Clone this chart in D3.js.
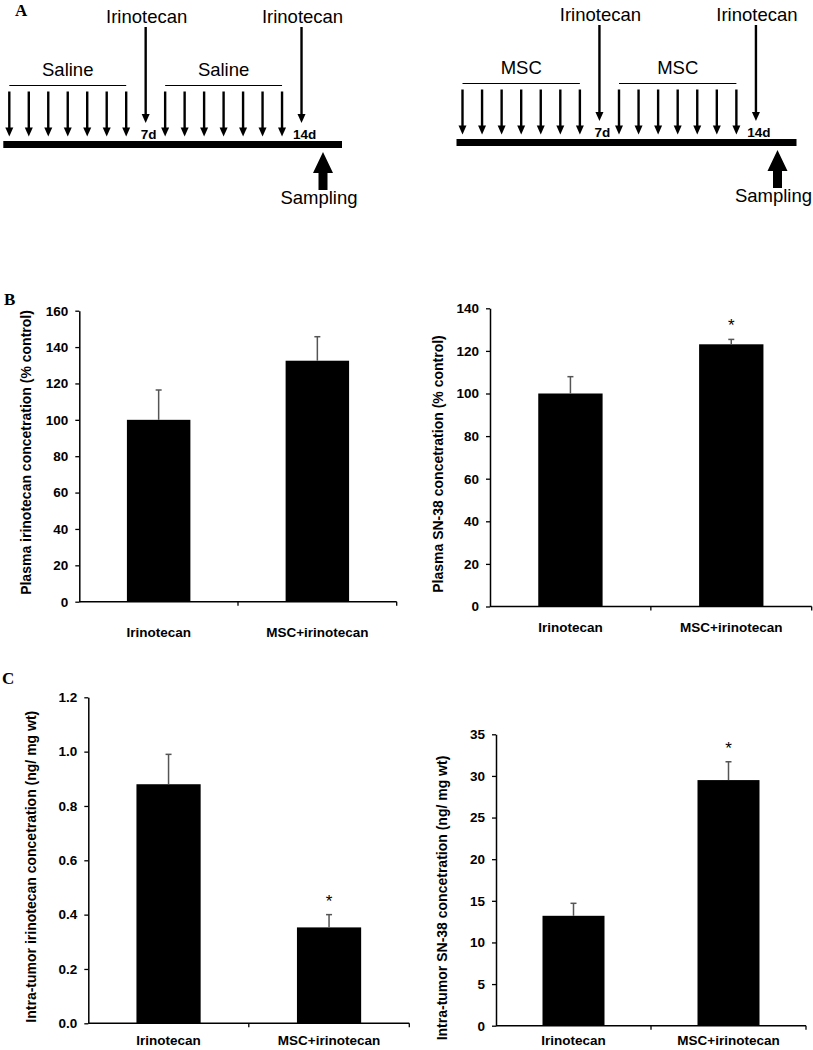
<!DOCTYPE html>
<html>
<head>
<meta charset="utf-8">
<script src="https://cdn.jsdelivr.net/npm/d3@7"></script>
<style>
  html, body { margin: 0; padding: 0; background: #fff; }
  svg { display: block; }
  text { font-family: "Liberation Sans", Arial, sans-serif; }
</style>
</head>
<body>
<script>
// ---------------- DATA ----------------
const categories = ["Irinotecan", "MSC+irinotecan"];

const plasmaIrinotecan = [100, 132.5];
const plasmaIrinotecanErr = [16.4, 13.2];
const plasmaIrinotecanSig = [false, false];
const plasmaIrinotecanTicks = [0, 20, 40, 60, 80, 100, 120, 140, 160];

const plasmaSN38 = [100, 123.1];
const plasmaSN38Err = [7.9, 2.3];
const plasmaSN38Sig = [false, true];
const plasmaSN38Ticks = [0, 20, 40, 60, 80, 100, 120, 140];

const tumorIrinotecan = [0.88, 0.353];
const tumorIrinotecanErr = [0.11, 0.047];
const tumorIrinotecanSig = [false, true];
const tumorIrinotecanTicks = [0, 0.2, 0.4, 0.6, 0.8, 1.0, 1.2];

const tumorSN38 = [13.2, 29.5];
const tumorSN38Err = [1.5, 2.2];
const tumorSN38Sig = [false, true];
const tumorSN38Ticks = [0, 5, 10, 15, 20, 25, 30, 35];

// schedule (panel A)
const doseDays1 = [0, 1, 2, 3, 4, 5, 6];
const doseDays2 = [8, 9, 10, 11, 12, 13, 14];
const irinotecanDays = [7, 15];
const irinotecanDayLabels = ["7d", "14d"];
const samplingDay = 16;
const leftGroupLabel = "Saline";
const rightGroupLabel = "MSC";

// ---------------- DRAW ----------------
const W = 813, H = 1050;
const svg = d3.select("body").append("svg").attr("width", W).attr("height", H);
svg.append("rect").attr("width", W).attr("height", H).attr("fill", "#fff");

// panel letters
const letterFont = '"Liberation Serif", "Times New Roman", serif';
[["A", 15, 16], ["B", 4, 305], ["C", 2, 684]].forEach(([t, x, y]) => {
  svg.append("text").attr("x", x).attr("y", y).text(t)
    .style("font-family", letterFont).style("font-weight", "bold").style("font-size", "17px");
});

function arrowDown(g, x, yTop, yTip) {
  const hl = 9, hw = 4;
  g.append("line").attr("x1", x).attr("x2", x).attr("y1", yTop).attr("y2", yTip - hl + 1)
    .attr("stroke", "#000").attr("stroke-width", 2.4);
  g.append("path").attr("d", `M${x - hw},${yTip - hl} L${x + hw},${yTip - hl} L${x},${yTip} Z`)
    .attr("fill", "#000");
}

function drawSchedule(rangeX, yShift, groupLabel) {
  const g = svg.append("g").attr("transform", `translate(0,${yShift})`);
  const x = d3.scaleLinear().domain([0, samplingDay]).range(rangeX);
  // thick timeline bar
  g.append("rect").attr("x", x(0) - 6).attr("y", 141).attr("width", x(samplingDay) + 21 - (x(0) - 6)).attr("height", 7)
    .attr("fill", "#000");
  // dose arrows
  [doseDays1, doseDays2].forEach(days => {
    days.forEach(d => arrowDown(g, x(d), 91.5, 136.5));
    g.append("line").attr("x1", x(d3.min(days))).attr("x2", x(d3.max(days)))
      .attr("y1", 85.5).attr("y2", 85.5).attr("stroke", "#000").attr("stroke-width", 1.2);
    g.append("text").attr("x", (x(d3.min(days)) + x(d3.max(days))) / 2).attr("y", 76)
      .attr("text-anchor", "middle").style("font-size", "18.5px").text(groupLabel);
  });
  // irinotecan arrows
  irinotecanDays.forEach((d, i) => {
    arrowDown(g, x(d), 27, 123);
    g.append("text").attr("x", x(d) + 1).attr("y", 22.5).attr("text-anchor", "middle")
      .style("font-size", "18.5px").text("Irinotecan");
    g.append("text").attr("x", x(d) + 3).attr("y", 139).attr("text-anchor", "middle")
      .style("font-size", "13.5px").style("font-weight", "bold").text(irinotecanDayLabels[i]);
  });
  // sampling arrow
  const sx = x(samplingDay) + 2;
  g.append("path").attr("d",
    `M${sx},152 L${sx + 10},173 L${sx + 4.5},173 L${sx + 4.5},190 L${sx - 4.5},190 L${sx - 4.5},173 L${sx - 10},173 Z`)
    .attr("fill", "#000");
  g.append("text").attr("x", sx - 4).attr("y", 204).attr("text-anchor", "middle")
    .style("font-size", "18.5px").text("Sampling");
}

drawSchedule([9.3, 321], 0, leftGroupLabel);
drawSchedule([462.5, 775.5], -2, rightGroupLabel);

// bar charts
function barChart(cfg) {
  const g = svg.append("g");
  const x = d3.scaleBand().domain(categories).range(cfg.xr).paddingInner(0.6).paddingOuter(0.3);
  const y = d3.scaleLinear().domain([0, d3.max(cfg.ticks)]).range(cfg.yr);
  const xb = d3.scaleBand().domain(categories).range(cfg.xr);

  // bars
  g.selectAll(".bar").data(cfg.values).join("rect")
    .attr("x", (d, i) => x(categories[i]))
    .attr("y", d => y(d))
    .attr("width", x.bandwidth())
    .attr("height", d => y(0) - y(d))
    .attr("fill", "#000");

  // error bars (upper only)
  cfg.values.forEach((v, i) => {
    const cx = x(categories[i]) + x.bandwidth() / 2;
    g.append("line").attr("x1", cx).attr("x2", cx).attr("y1", y(v)).attr("y2", y(v + cfg.err[i]))
      .attr("stroke", "#555").attr("stroke-width", 1.5);
    g.append("line").attr("x1", cx - 3).attr("x2", cx + 3).attr("y1", y(v + cfg.err[i])).attr("y2", y(v + cfg.err[i]))
      .attr("stroke", "#555").attr("stroke-width", 1.5);
    if (cfg.sig[i]) {
      g.append("text").attr("x", cx).attr("y", y(v + cfg.err[i]) - 8).attr("text-anchor", "middle")
        .style("font-size", "17px").text("*");
    }
  });

  // y axis
  const ya = g.append("g").attr("transform", `translate(${cfg.xr[0]},0)`)
    .call(d3.axisLeft(y).tickValues(cfg.ticks).tickFormat(cfg.fmt).tickSize(4).tickPadding(7).tickSizeOuter(0));
  ya.select(".domain").attr("stroke-width", 1.5);
  ya.selectAll(".tick line").attr("stroke-width", 1.3);
  ya.selectAll("text").style("font-family", '"Liberation Sans", Arial, sans-serif')
    .style("font-size", "13.5px").style("font-weight", "bold").attr("fill", "#000");

  // x axis
  const xa = g.append("g").attr("transform", `translate(0,${cfg.yr[0]})`);
  xa.append("line").attr("x1", cfg.xr[0]).attr("x2", cfg.xr[1]).attr("stroke", "#000").attr("stroke-width", 1.5);
  const bounds = categories.map(c => xb(c) + xb.bandwidth());
  xa.selectAll(".xt").data(bounds).join("line")
    .attr("x1", d => d).attr("x2", d => d).attr("y1", 0).attr("y2", 4)
    .attr("stroke", "#000").attr("stroke-width", 1.3);
  xa.selectAll(".xl").data(categories).join("text")
    .attr("x", d => xb(d) + xb.bandwidth() / 2)
    .attr("y", cfg.labelDy)
    .attr("text-anchor", "middle")
    .style("font-size", "13.5px").style("font-weight", "bold")
    .text(d => d);

  // y title
  g.append("text")
    .attr("transform", `translate(${cfg.titleX},${cfg.titleY}) rotate(-90)`)
    .attr("text-anchor", "middle").attr("dy", "0.35em")
    .style("font-size", "14px").style("font-weight", "bold")
    .text(cfg.title);
}

barChart({
  values: plasmaIrinotecan, err: plasmaIrinotecanErr, sig: plasmaIrinotecanSig, ticks: plasmaIrinotecanTicks,
  fmt: d3.format("d"), xr: [79.3, 396.7], yr: [601.7, 310.7], labelDy: 35,
  title: "Plasma irinotecan concetration (% control)", titleX: 26.5, titleY: 452.5
});
barChart({
  values: plasmaSN38, err: plasmaSN38Err, sig: plasmaSN38Sig, ticks: plasmaSN38Ticks,
  fmt: d3.format("d"), xr: [490, 811.7], yr: [606.5, 308.3], labelDy: 25,
  title: "Plasma SN-38 concetration (% control)", titleX: 438.3, titleY: 464
});
barChart({
  values: tumorIrinotecan, err: tumorIrinotecanErr, sig: tumorIrinotecanSig, ticks: tumorIrinotecanTicks,
  fmt: d3.format(".1f"), xr: [88.3, 409.3], yr: [1023.3, 697.3], labelDy: 21.5,
  title: "Intra-tumor irinotecan concetration (ng/ mg wt)", titleX: 30.7, titleY: 866.7
});
barChart({
  values: tumorSN38, err: tumorSN38Err, sig: tumorSN38Sig, ticks: tumorSN38Ticks,
  fmt: d3.format("d"), xr: [496, 806], yr: [1025.7, 734.3], labelDy: 19.5,
  title: "Intra-tumor SN-38 concetration (ng/ mg wt)", titleX: 441.7, titleY: 898
});
</script>
</body>
</html>
